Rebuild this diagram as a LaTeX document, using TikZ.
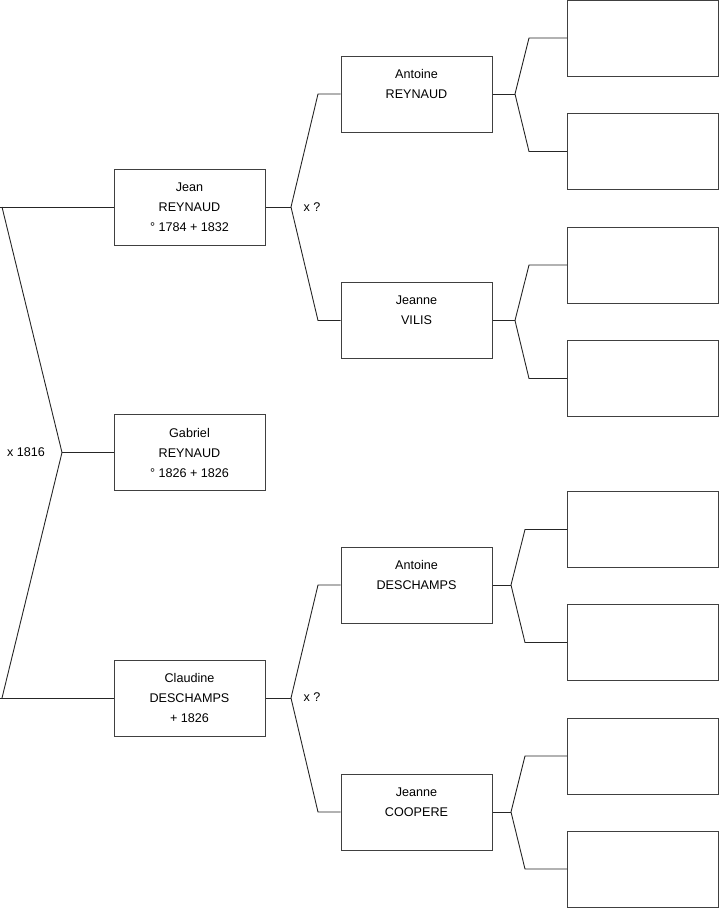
\documentclass[tikz,border=0pt]{standalone}
\usepackage{fontspec}
\setmainfont{Liberation Sans}
\usetikzlibrary{calc}

\begin{document}
\begin{tikzpicture}[x=1pt,y=-1pt,
    person/.style={draw=black!75, line width=1pt, minimum width=151pt, minimum height=76pt,
      inner sep=0pt, align=center, font=\fontsize{12.6}{20}\selectfont},
    branch/.style={draw=black!85, line width=0.9pt},
    marriage/.style={font=\fontsize{12.6}{14}\selectfont, inner sep=0pt}]
    \useasboundingbox (0,0) rectangle (719,908);
    % generation 1
    \node[person] (jean) at (189.5,207) {Jean\\REYNAUD\\\textdegree{} 1784 + 1832};
    \node[person] (gabriel) at (189.5,452.5) {Gabriel\\REYNAUD\\\textdegree{} 1826 + 1826};
    \node[person] (claudine) at (189.5,698) {Claudine\\DESCHAMPS\\+ 1826};
    % generation 2
    \node[person] (antoineR) at (416.5,94) {Antoine\\REYNAUD\\~};
    \node[person] (jeanneV) at (416.5,320.5) {Jeanne\\VILIS\\~};
    \node[person] (antoineD) at (416.5,585) {Antoine\\DESCHAMPS\\~};
    \node[person] (jeanneC) at (416.5,812) {Jeanne\\COOPERE\\~};
    % generation 3 (unknown)
    \node[person] (p1) at (643,38) {};
    \node[person] (p2) at (643,151.5) {};
    \node[person] (p3) at (643,265) {};
    \node[person] (p4) at (643,378.5) {};
    \node[person] (p5) at (643,529.5) {};
    \node[person] (p6) at (643,642.5) {};
    \node[person] (p7) at (643,756) {};
    \node[person] (p8) at (643,869) {};
    % forks
    \coordinate (f0) at (62,452.5);
    \coordinate (f0a) at (2,207);
    \coordinate (f0b) at (2,698);
    \draw[branch] (jean.west) -- (0,207);
    \draw[branch] (f0a) -- (f0) -- (f0b);
    \draw[branch] (0,698) -- (claudine.west);
    \draw[branch] (f0) -- (gabriel.west);
    \node[marriage] (m0) at (26,452) {x 1816};

    \coordinate (f1) at (291,207);
    \draw[branch] (jean.east) -- (f1);
    \draw[branch] (antoineR.west) -- (318,94) -- (f1) -- (318,320.5) -- (jeanneV.west);
    \node[marriage] (m1) at (312,207) {x ?};

    \coordinate (f2) at (291,698);
    \draw[branch] (claudine.east) -- (f2);
    \draw[branch] (antoineD.west) -- (318,585) -- (f2) -- (318,812) -- (jeanneC.west);
    \node[marriage] (m2) at (312,697) {x ?};

    \coordinate (f3) at (515,94);
    \draw[branch] (antoineR.east) -- (f3);
    \draw[branch] (p1.west) -- (529,38) -- (f3) -- (529,151.5) -- (p2.west);
    \coordinate (f4) at (515,320.5);
    \draw[branch] (jeanneV.east) -- (f4);
    \draw[branch] (p3.west) -- (529,265) -- (f4) -- (529,378.5) -- (p4.west);
    \coordinate (f5) at (511,585);
    \draw[branch] (antoineD.east) -- (f5);
    \draw[branch] (p5.west) -- (525,529.5) -- (f5) -- (525,642.5) -- (p6.west);
    \coordinate (f6) at (511,812);
    \draw[branch] (jeanneC.east) -- (f6);
    \draw[branch] (p7.west) -- (525,756) -- (f6) -- (525,869) -- (p8.west);
\end{tikzpicture}
\end{document}
